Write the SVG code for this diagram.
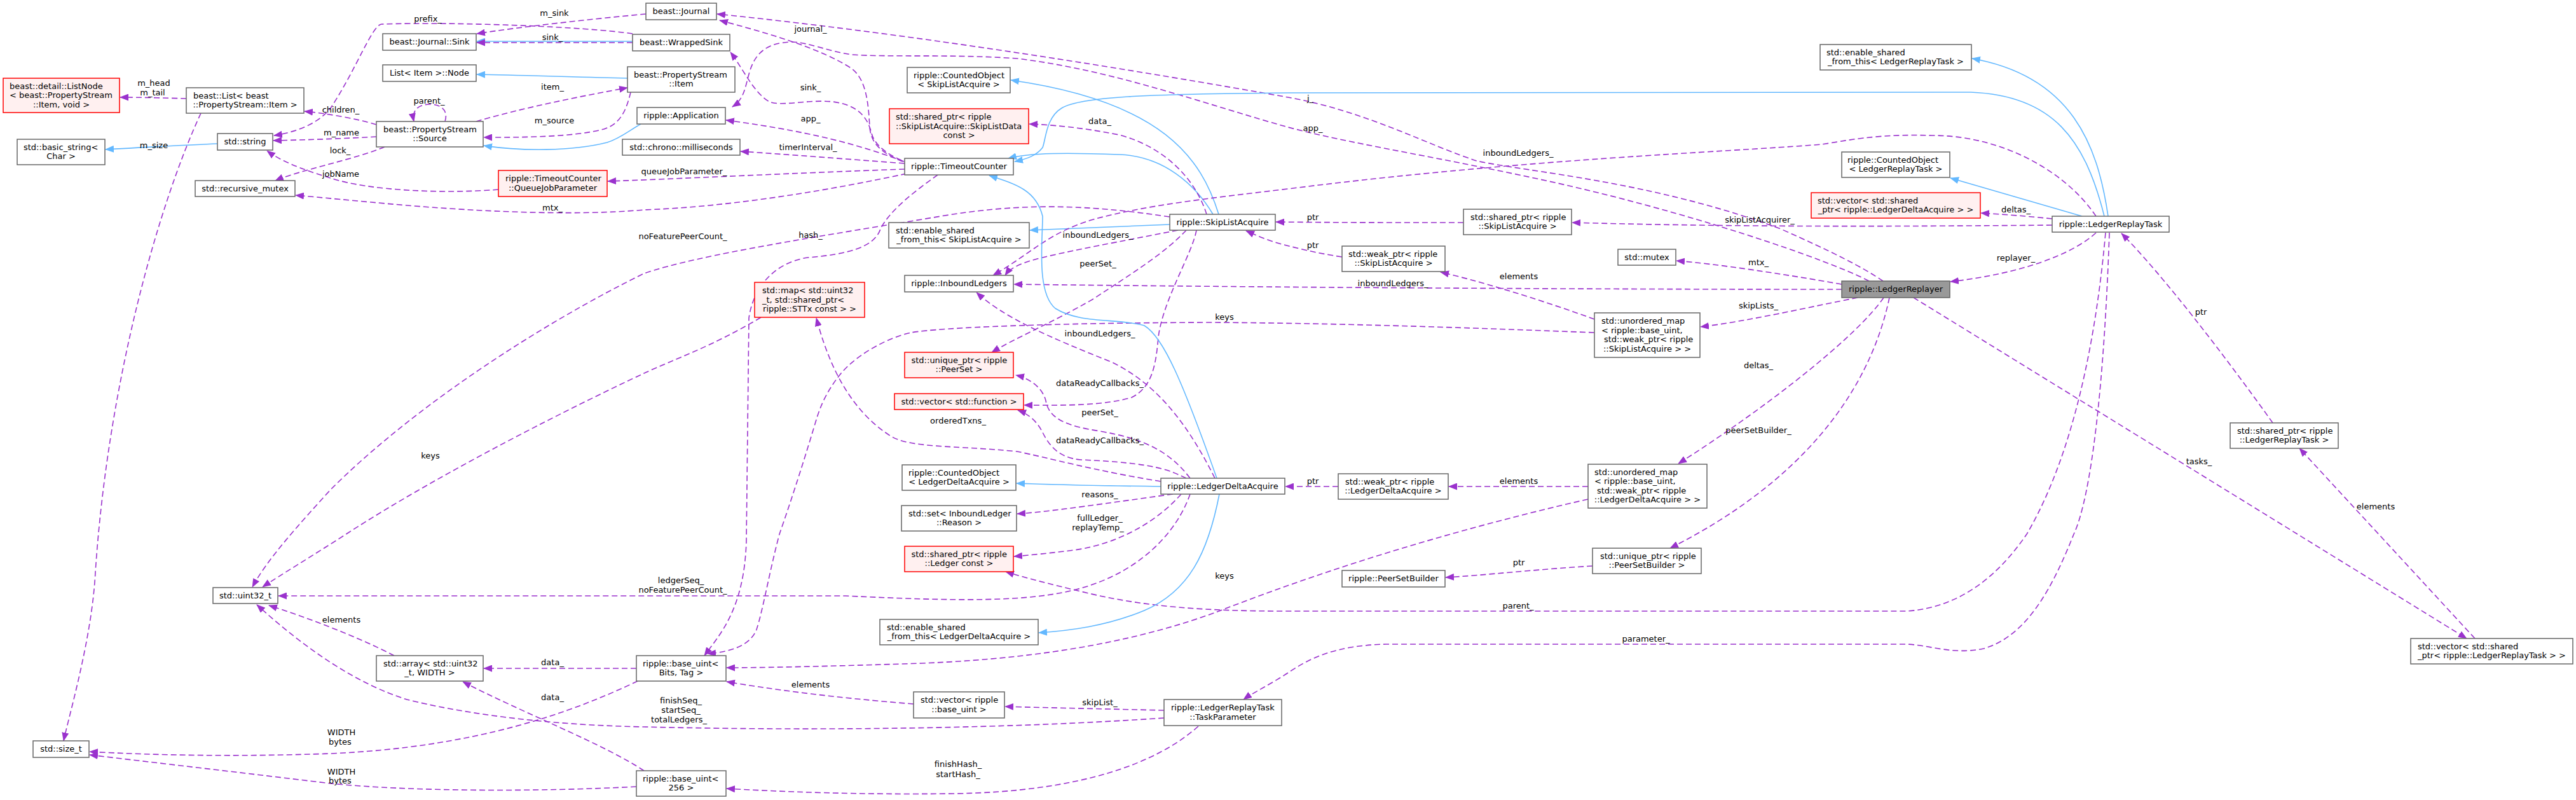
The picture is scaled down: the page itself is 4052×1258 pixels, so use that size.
<svg xmlns="http://www.w3.org/2000/svg" width="4052" height="1258" viewBox="0 0 4052 1258">
<defs>
<marker id="ap" markerUnits="userSpaceOnUse" markerWidth="14" markerHeight="11" viewBox="0 0 14 11" refX="13" refY="5.5" orient="auto"><path d="M0,0 L14,5.5 L0,11 z" fill="#9A32CD"/></marker>
<marker id="ab" markerUnits="userSpaceOnUse" markerWidth="14" markerHeight="11" viewBox="0 0 14 11" refX="13" refY="5.5" orient="auto"><path d="M0,0 L14,5.5 L0,11 z" fill="#63B8FF"/></marker>
</defs>
<style>
text{font-family:"DejaVu Sans","Liberation Sans",sans-serif;font-size:13px;fill:#000}
.c{text-anchor:middle}
.n rect{fill:#fff;stroke:#666;stroke-width:1.5}
.r rect{fill:#FFF0F0;stroke:#FF0000;stroke-width:1.5}
.m rect{fill:#999;stroke:#666;stroke-width:1.5}
.u{fill:none;stroke:#9A32CD;stroke-width:1.6;stroke-dasharray:9,5;marker-end:url(#ap)}
.i{fill:none;stroke:#63B8FF;stroke-width:1.6;marker-end:url(#ab)}
</style>
<rect width="4052" height="1258" fill="#fff"/>
<g id="connectors">
<path class="i" d="M987,123 C900,121 820,118 750,117"/>
<path class="i" d="M995,65 L750,65"/>
<path class="u" d="M995,67 L750,67"/>
<path class="u" d="M1016,22 C930,30 820,42 750,53"/>
<path class="u" d="M995,53 C920,42 720,34 600,38 C585,40 560,110 520,170 C500,195 465,208 431,213"/>
<path class="i" d="M1008,195 C990,205 975,218 955,224 C900,238 820,238 761,229"/>
<path class="u" d="M592,196 C560,186 510,178 479,175"/>
<path class="u" d="M592,215 C540,218 480,220 430,221"/>
<path class="u" d="M605,231 C560,250 470,268 433,284"/>
<path class="u" d="M700,191 C706,172 692,164 676,164 C660,164 647,172 651,191"/>
<path class="u" d="M749,191 C820,170 920,150 987,138"/>
<path class="u" d="M992,145 C985,175 975,195 950,203 C900,216 820,216 761,216"/>
<path class="u" d="M293,155 C260,154 220,153 189,153"/>
<path class="i" d="M342,226 C290,228 220,232 166,235"/>
<path class="u" d="M316,178 C250,320 170,600 150,900 C145,1000 110,1120 100,1165"/>
<path class="u" d="M784,298 C700,305 580,300 520,280 C470,265 440,252 420,237"/>
<path class="u" d="M1423,266 C1250,272 1050,282 956,285"/>
<path class="u" d="M1426,273 C1300,300 1150,325 1013,330 C900,340 750,332 640,323 C560,316 500,310 465,307"/>
<path class="u" d="M1420,254 C1385,240 1370,225 1368,200 C1366,160 1362,125 1340,108 C1290,75 1200,50 1132,32"/>
<path class="u" d="M1418,252 C1390,240 1375,225 1371,210 C1365,185 1350,165 1310,160 C1270,156 1230,168 1210,160 C1185,145 1170,110 1149,82"/>
<path class="u" d="M1422,254 C1370,235 1300,210 1142,189"/>
<path class="u" d="M1423,257 C1330,250 1240,243 1165,238"/>
<path class="u" d="M1475,275 C1440,300 1400,330 1385,360 C1375,390 1330,400 1271,405 C1220,412 1185,450 1178,500 L1174,850 C1171,960 1130,1000 1108,1031"/>
<path class="i" d="M1917,337 C1890,250 1830,160 1590,126"/>
<path class="i" d="M1908,337 C1880,290 1830,245 1760,243 C1680,240 1620,240 1586,249"/>
<path class="i" d="M1840,353 C1750,356 1680,359 1620,362"/>
<path class="u" d="M1898,337 C1880,280 1830,230 1760,212 C1700,200 1650,196 1619,195"/>
<path class="u" d="M1840,341 C1700,320 1600,320 1480,340 C1300,370 1100,400 1013,430 C850,510 650,640 520,770 C470,825 420,880 397,923"/>
<path class="u" d="M1853,362 C1760,380 1680,395 1640,405 C1610,412 1590,420 1581,433"/>
<path class="u" d="M1866,362 C1830,400 1780,430 1720,470 C1650,510 1600,530 1560,554"/>
<path class="u" d="M1882,362 C1875,400 1830,470 1822,530 C1818,580 1810,610 1780,625 C1740,637 1680,638 1611,637"/>
<path class="u" d="M3297,340 C3250,270 3150,213 3039,213 C2950,210 2900,222 2866,227 C2700,240 2400,250 2026,297 C1900,312 1800,323 1720,345 C1650,365 1620,400 1562,433"/>
<path class="u" d="M2962,442 C2930,420 2880,395 2801,360 C2600,285 2400,270 2323,253 C2250,230 2150,175 2026,153 C1800,113 1450,55 1128,22"/>
<path class="u" d="M2940,442 C2880,410 2650,330 2413,280 C2250,245 2120,225 2026,200 C1900,165 1750,110 1600,92 C1500,85 1400,90 1340,86 C1300,80 1270,66 1245,66 C1210,67 1190,80 1180,110 C1172,135 1172,155 1152,168"/>
<path class="u" d="M2302,350 C2200,350 2100,350 2007,349"/>
<path class="u" d="M2111,404 C2070,398 2040,390 2020,385 C2000,380 1980,372 1960,363"/>
<path class="u" d="M3228,354 C2900,357 2700,356 2473,350"/>
<path class="u" d="M2897,447 C2800,430 2700,415 2637,410"/>
<path class="u" d="M3228,344 C3190,340 3150,337 3116,335"/>
<path class="u" d="M3297,366 C3260,400 3180,430 3068,443"/>
<path class="i" d="M3316,340 C3300,230 3260,120 3102,92"/>
<path class="i" d="M3310,340 C3280,220 3230,150 3100,145 L2026,146 C1800,148 1700,152 1670,170 C1645,185 1645,220 1640,232 C1630,245 1615,250 1596,254"/>
<path class="i" d="M3275,340 L3068,280"/>
<path class="u" d="M3312,366 C3300,500 3270,700 3188,840 C3140,910 3080,955 3000,961 L2026,961 C1900,961 1800,955 1700,930 C1650,918 1610,908 1582,899"/>
<path class="u" d="M3318,366 C3310,600 3290,780 3262,840 C3230,920 3190,1000 3120,1020 C3070,1030 3040,1015 3000,1013 L2180,1013 C2100,1015 2060,1035 2026,1058 C2000,1075 1970,1090 1956,1100"/>
<path class="u" d="M3575,665 C3500,560 3400,430 3337,367"/>
<path class="u" d="M3893,1004 L3617,705"/>
<path class="u" d="M3010,468 C3200,585 3700,893 3880,1004"/>
<path class="u" d="M2897,455 C2500,455 2000,452 1595,447"/>
<path class="u" d="M2922,468 C2850,482 2750,505 2675,514"/>
<path class="u" d="M2963,468 C2920,530 2780,640 2640,729"/>
<path class="u" d="M2972,468 C2940,620 2830,760 2627,862"/>
<path class="u" d="M2508,502 C2420,470 2320,440 2266,428"/>
<path class="u" d="M2508,523 C2300,515 2100,508 1900,507 C1650,508 1480,515 1433,523 C1400,530 1350,555 1323,587 C1300,615 1290,640 1284,660 C1260,740 1240,800 1226,840 C1210,900 1200,960 1190,990 C1180,1015 1150,1025 1113,1028"/>
<path class="u" d="M2498,765 L2279,765"/>
<path class="u" d="M2498,785 C2300,830 2100,890 1920,960 C1800,1005 1650,1035 1450,1043 C1300,1048 1200,1050 1143,1050"/>
<path class="u" d="M2105,765 L2022,765"/>
<path class="u" d="M2505,890 C2420,895 2330,905 2274,908"/>
<path class="i" d="M1826,765 C1750,764 1650,762 1599,760"/>
<path class="i" d="M1918,777 C1900,870 1870,930 1800,960 C1740,985 1680,992 1634,995"/>
<path class="i" d="M1914,752 C1860,600 1830,530 1800,512 C1760,500 1700,510 1660,485 C1630,460 1640,380 1640,340 C1630,300 1600,290 1556,276"/>
<path class="u" d="M1911,752 C1860,650 1810,600 1750,570 C1650,530 1580,500 1536,460"/>
<path class="u" d="M1872,752 C1840,710 1800,690 1730,678 C1680,670 1650,660 1645,630 C1640,610 1620,595 1598,590"/>
<path class="u" d="M1866,752 C1840,740 1820,728 1700,723 C1665,720 1650,700 1640,680 C1630,660 1615,650 1601,645"/>
<path class="u" d="M1826,757 C1720,740 1650,720 1600,710 C1500,700 1430,705 1400,685 C1330,640 1300,560 1284,500"/>
<path class="u" d="M1845,777 C1750,790 1650,805 1600,808"/>
<path class="u" d="M1858,777 C1820,820 1760,855 1690,865 C1650,870 1620,873 1595,875"/>
<path class="u" d="M1872,777 C1850,840 1790,900 1700,925 C1620,948 1500,945 1330,937 L438,937"/>
<path class="u" d="M1197,499 C1120,545 1060,565 1013,587 C900,640 700,740 549,837 C490,875 440,905 413,923"/>
<path class="u" d="M1831,1117 C1750,1115 1650,1113 1581,1111"/>
<path class="u" d="M1831,1129 C1600,1145 1300,1150 1013,1143 C850,1140 720,1120 640,1100 C560,1075 480,1020 404,951"/>
<path class="u" d="M1885,1142 C1820,1200 1700,1245 1500,1248 C1350,1250 1230,1245 1143,1240"/>
<path class="u" d="M1437,1107 C1350,1100 1250,1090 1143,1072"/>
<path class="u" d="M1001,1051 L761,1051"/>
<path class="u" d="M1003,1071 C900,1120 750,1175 520,1185 C380,1190 250,1188 141,1182"/>
<path class="u" d="M1001,1237 C850,1245 650,1245 520,1232 C380,1215 250,1200 141,1187"/>
<path class="u" d="M1013,1212 C950,1170 820,1120 728,1072"/>
<path class="u" d="M620,1031 C560,1000 480,970 423,952"/>
<g class="c">
<text x="872" y="25">m_sink</text>
<text x="869" y="63">sink_</text>
<text x="673" y="34">prefix_</text>
<text x="536" y="177">children_</text>
<text x="537" y="213">m_name</text>
<text x="535" y="241">lock_</text>
<text x="675" y="163">parent_</text>
<text x="869" y="141">item_</text>
<text x="872" y="194">m_source</text>
<text x="242" y="135">m_head</text>
<text x="240" y="150">m_tail</text>
<text x="242" y="233">m_size</text>
<text x="536" y="278">jobName</text>
<text x="1076" y="274">queueJobParameter_</text>
<text x="869" y="331">mtx_</text>
<text x="1275" y="50">journal_</text>
<text x="1275" y="142">sink_</text>
<text x="1275" y="191">app_</text>
<text x="1271" y="236">timerInterval_</text>
<text x="1275" y="374">hash_</text>
<text x="1074" y="376">noFeaturePeerCount_</text>
<text x="1730" y="195">data_</text>
<text x="1727" y="374">inboundLedgers_</text>
<text x="1727" y="419">peerSet_</text>
<text x="2061" y="159">j_</text>
<text x="2065" y="206">app_</text>
<text x="2388" y="245">inboundLedgers_</text>
<text x="2065" y="346">ptr</text>
<text x="2065" y="390">ptr</text>
<text x="2768" y="350">skipListAcquirer_</text>
<text x="2766" y="417">mtx_</text>
<text x="3171" y="334">deltas_</text>
<text x="3171" y="410">replayer_</text>
<text x="2389" y="439">elements</text>
<text x="2191" y="450">inboundLedgers_</text>
<text x="2766" y="485">skipLists_</text>
<text x="2766" y="579">deltas_</text>
<text x="2766" y="681">peerSetBuilder_</text>
<text x="2389" y="761">elements</text>
<text x="2065" y="761">ptr</text>
<text x="1926" y="503">keys</text>
<text x="1730" y="529">inboundLedgers_</text>
<text x="1730" y="607">dataReadyCallbacks_</text>
<text x="1730" y="653">peerSet_</text>
<text x="1507" y="666">orderedTxns_</text>
<text x="1730" y="697">dataReadyCallbacks_</text>
<text x="1730" y="782">reasons_</text>
<text x="1730" y="819">fullLedger_</text>
<text x="1727" y="834">replayTemp_</text>
<text x="677" y="721">keys</text>
<text x="1071" y="917">ledgerSeq_</text>
<text x="1074" y="932">noFeaturePeerCount_</text>
<text x="1926" y="910">keys</text>
<text x="2389" y="889">ptr</text>
<text x="2388" y="957">parent_</text>
<text x="2589" y="1009">parameter_</text>
<text x="3462" y="495">ptr</text>
<text x="3459" y="730">tasks_</text>
<text x="3737" y="801">elements</text>
<text x="537" y="979">elements</text>
<text x="869" y="1046">data_</text>
<text x="869" y="1101">data_</text>
<text x="537" y="1156">WIDTH</text>
<text x="535" y="1171">bytes</text>
<text x="537" y="1218">WIDTH</text>
<text x="535" y="1232">bytes</text>
<text x="1275" y="1081">elements</text>
<text x="1730" y="1109">skipList_</text>
<text x="1071" y="1106">finishSeq_</text>
<text x="1071" y="1121">startSeq_</text>
<text x="1068" y="1136">totalLedgers_</text>
<text x="1507" y="1206">finishHash_</text>
<text x="1507" y="1222">startHash_</text>
</g>
</g>
<g id="n_listnode" class="r"><rect x="5" y="123" width="183" height="54"/><text x="15" y="139.5">beast::detail::ListNode</text><text x="15" y="154">&lt; beast::PropertyStream</text><text class="c" x="96.5" y="168.5">::Item, void &gt;</text></g>
<g id="n_list" class="n"><rect x="293" y="138" width="185" height="40"/><text x="304" y="154.75">beast::List&lt; beast</text><text class="c" x="385.5" y="169.25">::PropertyStream::Item &gt;</text></g>
<g id="n_basicstr" class="n"><rect x="27" y="219" width="138" height="40"/><text x="37" y="235.75">std::basic_string&lt;</text><text class="c" x="96" y="250.25">Char &gt;</text></g>
<g id="n_string" class="n"><rect x="342" y="210" width="87" height="26"/><text class="c" x="385.5" y="227">std::string</text></g>
<g id="n_rmutex" class="n"><rect x="307" y="284" width="157" height="25"/><text class="c" x="385.5" y="300.5">std::recursive_mutex</text></g>
<g id="n_sink" class="n"><rect x="602" y="53" width="147" height="26"/><text class="c" x="675.5" y="70">beast::Journal::Sink</text></g>
<g id="n_node" class="n"><rect x="602" y="102" width="147" height="26"/><text class="c" x="675.5" y="119">List&lt; Item &gt;::Node</text></g>
<g id="n_source" class="n"><rect x="592" y="191" width="168" height="40"/><text x="603" y="207.75">beast::PropertyStream</text><text class="c" x="676" y="222.25">::Source</text></g>
<g id="n_qjp" class="r"><rect x="784" y="268" width="171" height="41"/><text x="795" y="285.25">ripple::TimeoutCounter</text><text class="c" x="869.5" y="299.75">::QueueJobParameter</text></g>
<g id="n_journal" class="n"><rect x="1016" y="5" width="111" height="26"/><text class="c" x="1071.5" y="22">beast::Journal</text></g>
<g id="n_wsink" class="n"><rect x="995" y="54" width="153" height="26"/><text class="c" x="1071.5" y="71">beast::WrappedSink</text></g>
<g id="n_item" class="n"><rect x="987" y="105" width="169" height="40"/><text x="997" y="121.75">beast::PropertyStream</text><text class="c" x="1071.5" y="136.25">::Item</text></g>
<g id="n_app" class="n"><rect x="1002" y="169" width="139" height="26"/><text class="c" x="1071.5" y="186">ripple::Application</text></g>
<g id="n_chrono" class="n"><rect x="979" y="219" width="185" height="25"/><text class="c" x="1071.5" y="235.5">std::chrono::milliseconds</text></g>
<g id="n_tc" class="n"><rect x="1423" y="249" width="171" height="26"/><text class="c" x="1508.5" y="266">ripple::TimeoutCounter</text></g>
<g id="n_co_sla" class="n"><rect x="1427" y="106" width="162" height="40"/><text x="1437" y="122.75">ripple::CountedObject</text><text class="c" x="1508" y="137.25">&lt; SkipListAcquire &gt;</text></g>
<g id="n_sp_sld" class="r"><rect x="1399" y="171" width="219" height="55"/><text x="1409" y="188">std::shared_ptr&lt; ripple</text><text x="1409" y="202.5">::SkipListAcquire::SkipListData</text><text class="c" x="1508.5" y="217">const &gt;</text></g>
<g id="n_es_sla" class="n"><rect x="1398" y="350" width="221" height="40"/><text x="1409" y="366.75">std::enable_shared</text><text class="c" x="1508.5" y="381.25">_from_this&lt; SkipListAcquire &gt;</text></g>
<g id="n_sla" class="n"><rect x="1840" y="337" width="166" height="25"/><text class="c" x="1923" y="353.5">ripple::SkipListAcquire</text></g>
<g id="n_es_lrt" class="n"><rect x="2863" y="70" width="238" height="40"/><text x="2873" y="86.75">std::enable_shared</text><text class="c" x="2982" y="101.25">_from_this&lt; LedgerReplayTask &gt;</text></g>
<g id="n_co_lrt" class="n"><rect x="2897" y="239" width="170" height="40"/><text x="2906" y="255.75">ripple::CountedObject</text><text class="c" x="2982" y="270.25">&lt; LedgerReplayTask &gt;</text></g>
<g id="n_vec_lda" class="r"><rect x="2849" y="303" width="266" height="40"/><text x="2859" y="319.75">std::vector&lt; std::shared</text><text class="c" x="2982" y="334.25">_ptr&lt; ripple::LedgerDeltaAcquire &gt; &gt;</text></g>
<g id="n_sp_sla" class="n"><rect x="2302" y="329" width="170" height="40"/><text x="2313" y="345.75">std::shared_ptr&lt; ripple</text><text class="c" x="2387" y="360.25">::SkipListAcquire &gt;</text></g>
<g id="n_wp_sla" class="n"><rect x="2111" y="387" width="162" height="40"/><text x="2121" y="403.75">std::weak_ptr&lt; ripple</text><text class="c" x="2192" y="418.25">::SkipListAcquire &gt;</text></g>
<g id="n_mutex" class="n"><rect x="2545" y="392" width="91" height="25"/><text class="c" x="2590.5" y="408.5">std::mutex</text></g>
<g id="n_lrt" class="n"><rect x="3228" y="340" width="184" height="25"/><text class="c" x="3320" y="356.5">ripple::LedgerReplayTask</text></g>
<g id="n_lr" class="m"><rect x="2897" y="442" width="170" height="26"/><text class="c" x="2982" y="459">ripple::LedgerReplayer</text></g>
<g id="n_um_sla" class="n"><rect x="2508" y="492" width="166" height="70"/><text x="2519" y="509.25">std::unordered_map</text><text x="2519" y="523.75">&lt; ripple::base_uint,</text><text x="2523" y="538.25">std::weak_ptr&lt; ripple</text><text class="c" x="2591" y="552.75">::SkipListAcquire &gt; &gt;</text></g>
<g id="n_wp_lda" class="n"><rect x="2105" y="745" width="173" height="40"/><text x="2116" y="761.75">std::weak_ptr&lt; ripple</text><text class="c" x="2191.5" y="776.25">::LedgerDeltaAcquire &gt;</text></g>
<g id="n_um_lda" class="n"><rect x="2498" y="730" width="187" height="69"/><text x="2508" y="746.75">std::unordered_map</text><text x="2508" y="761.25">&lt; ripple::base_uint,</text><text x="2512" y="775.75">std::weak_ptr&lt; ripple</text><text class="c" x="2591.5" y="790.25">::LedgerDeltaAcquire &gt; &gt;</text></g>
<g id="n_lda" class="n"><rect x="1826" y="752" width="195" height="25"/><text class="c" x="1923.5" y="768.5">ripple::LedgerDeltaAcquire</text></g>
<g id="n_map" class="r"><rect x="1187" y="444" width="173" height="55"/><text x="1199" y="461">std::map&lt; std::uint32</text><text x="1199" y="475.5">_t, std::shared_ptr&lt;</text><text class="c" x="1273.5" y="490">ripple::STTx const &gt; &gt;</text></g>
<g id="n_il" class="n"><rect x="1423" y="433" width="171" height="26"/><text class="c" x="1508.5" y="450">ripple::InboundLedgers</text></g>
<g id="n_up_ps" class="r"><rect x="1423" y="554" width="171" height="40"/><text x="1433.5" y="570.75">std::unique_ptr&lt; ripple</text><text class="c" x="1508.5" y="585.25">::PeerSet &gt;</text></g>
<g id="n_vec_fn" class="r"><rect x="1407" y="619" width="203" height="25"/><text class="c" x="1508.5" y="635.5">std::vector&lt; std::function &gt;</text></g>
<g id="n_co_lda" class="n"><rect x="1419" y="731" width="179" height="40"/><text x="1429" y="747.75">ripple::CountedObject</text><text class="c" x="1508.5" y="762.25">&lt; LedgerDeltaAcquire &gt;</text></g>
<g id="n_set" class="n"><rect x="1418" y="795" width="181" height="40"/><text x="1429" y="811.75">std::set&lt; InboundLedger</text><text class="c" x="1508.5" y="826.25">::Reason &gt;</text></g>
<g id="n_sp_led" class="r"><rect x="1423" y="859" width="171" height="40"/><text x="1433.5" y="875.75">std::shared_ptr&lt; ripple</text><text class="c" x="1508.5" y="890.25">::Ledger const &gt;</text></g>
<g id="n_es_lda" class="n"><rect x="1384" y="974" width="249" height="40"/><text x="1395" y="990.75">std::enable_shared</text><text class="c" x="1508.5" y="1005.25">_from_this&lt; LedgerDeltaAcquire &gt;</text></g>
<g id="n_bu" class="n"><rect x="1001" y="1031" width="141" height="40"/><text x="1011" y="1047.75">ripple::base_uint&lt;</text><text class="c" x="1071.5" y="1062.25">Bits, Tag &gt;</text></g>
<g id="n_vec_bu" class="n"><rect x="1437" y="1088" width="143" height="41"/><text x="1448" y="1105.25">std::vector&lt; ripple</text><text class="c" x="1508.5" y="1119.75">::base_uint &gt;</text></g>
<g id="n_tp" class="n"><rect x="1831" y="1100" width="185" height="41"/><text x="1842" y="1117.25">ripple::LedgerReplayTask</text><text class="c" x="1923.5" y="1131.75">::TaskParameter</text></g>
<g id="n_bu256" class="n"><rect x="1001" y="1212" width="141" height="40"/><text x="1011" y="1228.75">ripple::base_uint&lt;</text><text class="c" x="1071.5" y="1243.25">256 &gt;</text></g>
<g id="n_u32" class="n"><rect x="335" y="924" width="102" height="25"/><text class="c" x="386" y="940.5">std::uint32_t</text></g>
<g id="n_array" class="n"><rect x="592" y="1031" width="168" height="40"/><text x="603" y="1047.75">std::array&lt; std::uint32</text><text class="c" x="676" y="1062.25">_t, WIDTH &gt;</text></g>
<g id="n_sizet" class="n"><rect x="52" y="1165" width="88" height="26"/><text class="c" x="96" y="1182">std::size_t</text></g>
<g id="n_up_psb" class="n"><rect x="2505" y="862" width="171" height="40"/><text x="2517" y="878.75">std::unique_ptr&lt; ripple</text><text class="c" x="2590.5" y="893.25">::PeerSetBuilder &gt;</text></g>
<g id="n_psb" class="n"><rect x="2111" y="897" width="162" height="26"/><text class="c" x="2192" y="914">ripple::PeerSetBuilder</text></g>
<g id="n_vec_lrt" class="n"><rect x="3792" y="1004" width="255" height="40"/><text x="3803" y="1020.75">std::vector&lt; std::shared</text><text class="c" x="3919.5" y="1035.25">_ptr&lt; ripple::LedgerReplayTask &gt; &gt;</text></g>
<g id="n_sp_lrt" class="n"><rect x="3508" y="665" width="170" height="40"/><text x="3519" y="681.75">std::shared_ptr&lt; ripple</text><text class="c" x="3593" y="696.25">::LedgerReplayTask &gt;</text></g>
</svg>
